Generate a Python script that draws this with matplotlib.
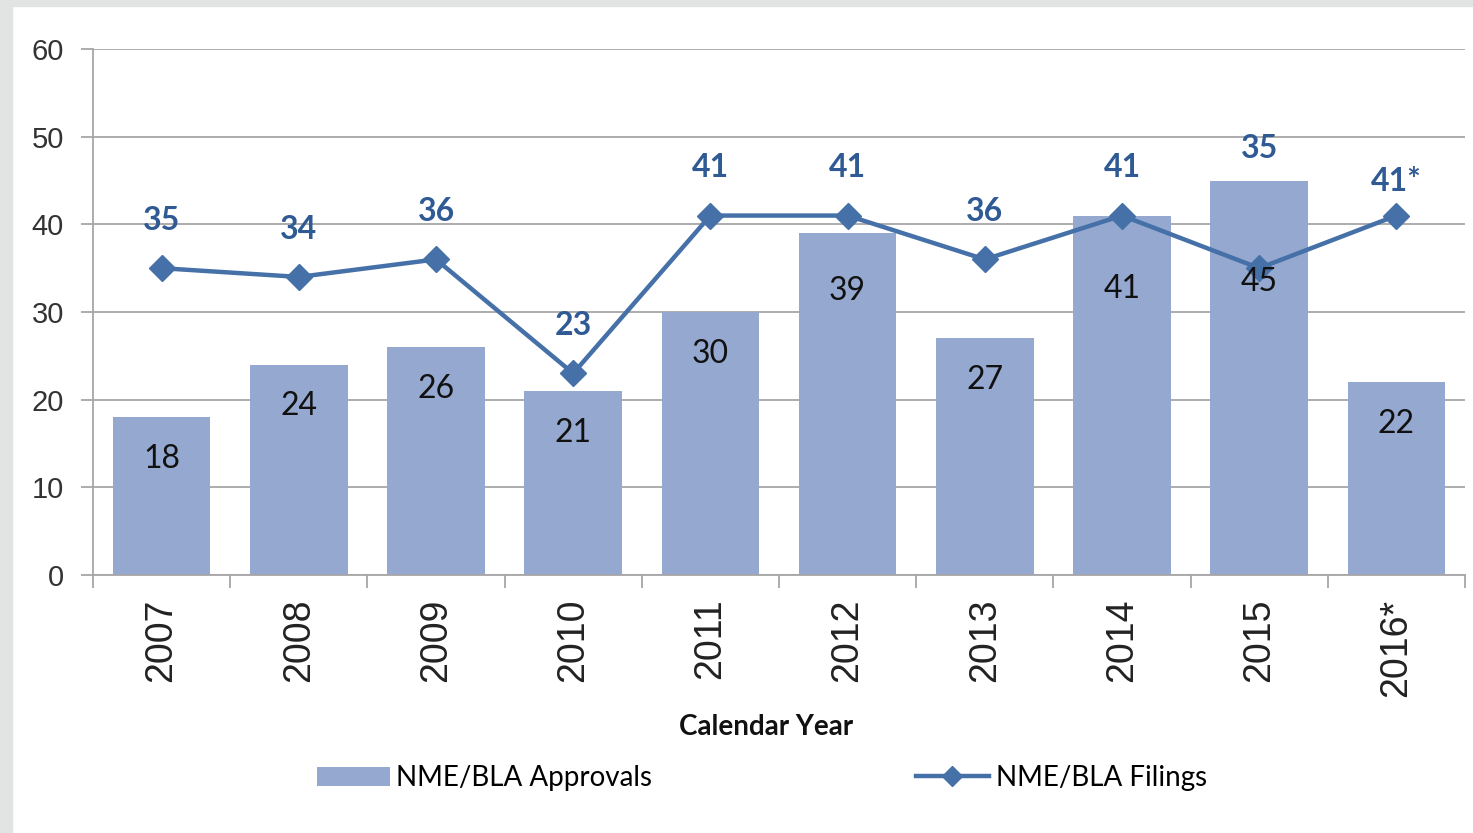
import numpy as np
import matplotlib
matplotlib.use("Agg")
from matplotlib import pyplot as plt
from matplotlib.patches import Rectangle

# 数据
years = ['2007', '2008', '2009', '2010', '2011', '2012', '2013', '2014', '2015', '2016*']
approvals = [18, 24, 26, 21, 30, 39, 27, 41, 45, 22]
filings = [35, 34, 36, 23, 41, 41, 36, 41, 35, 41]
filing_labels = ['35', '34', '36', '23', '41', '41', '36', '41', '35', '41*']

# 标签偏移(单位: 点)
bar_label_drop = [30, 30, 30, 30, 30, 42, 30, 53, 73, 30]
line_label_rise = [24, 24, 24, 24, 24, 24, 24, 24, 76, 14]

bar_color = '#95A9D0'
line_color = '#4570A8'
label_blue = '#2F5A94'
grid_color = '#A6A6A6'

fig = plt.figure(figsize=(14.73, 8.33), dpi=100)
fig.patches.append(Rectangle((0, 0), 12 / 1473, 1, transform=fig.transFigure, color='#E2E4E4', zorder=0))
fig.patches.append(Rectangle((0, 1 - 6 / 833), 1, 6 / 833, transform=fig.transFigure, color='#E2E4E4', zorder=0))

ax = fig.add_axes([93 / 1473, 1 - 575 / 833, (1465 - 93) / 1473, (575 - 49) / 833])
x = np.arange(len(years))

bars = ax.bar(x, approvals, width=0.71, color=bar_color, zorder=2, label='NME/BLA Approvals')
line, = ax.plot(x, filings, color=line_color, lw=3.2, marker='D', ms=13, zorder=3, label='NME/BLA Filings')

for i in range(len(years)):
    ax.annotate(str(approvals[i]), (x[i], approvals[i]), xytext=(0, -bar_label_drop[i]),
                textcoords='offset points', ha='center', va='center', fontsize=23,
                family='Lato', color='#111111', zorder=4)
    ax.annotate(filing_labels[i], (x[i], filings[i]), xytext=(0, line_label_rise[i]),
                textcoords='offset points', ha='center', va='bottom', fontsize=23,
                family='Lato', fontweight='bold', color=label_blue, zorder=4)

ax.set_xlim(-0.5, len(years) - 0.5)
ax.set_ylim(0, 60)
ax.set_yticks(range(0, 61, 10))
ax.yaxis.grid(True, color=grid_color, lw=1.3, zorder=0)
ax.set_axisbelow(True)

ax.set_xticks(x)
ax.set_xticklabels(years, rotation=90, fontsize=27, family='Liberation Sans', color='#222222')
ax.set_xticks(np.arange(-0.5, len(years), 1), minor=True)
ax.tick_params(axis='x', which='major', length=0, pad=17)
ax.tick_params(axis='x', which='minor', length=9, width=1.3, color=grid_color)
ax.tick_params(axis='y', length=9, width=1.3, color=grid_color, pad=12)
for lab in ax.get_yticklabels():
    lab.set_fontsize(21)
    lab.set_family('Liberation Sans')
    lab.set_color('#333333')

for s in ['top', 'right']:
    ax.spines[s].set_visible(False)
for s in ['left', 'bottom']:
    ax.spines[s].set_color(grid_color)
    ax.spines[s].set_linewidth(1.3)

fig.text(766 / 1473, 1 - 727 / 833, 'Calendar Year', ha='center', va='center',
         fontsize=20, family='Lato', fontweight='bold', color='#111111')

fig.legend([bars, line], ['NME/BLA Approvals', 'NME/BLA Filings'],
           loc='center', bbox_to_anchor=(762 / 1473, 1 - 778 / 833), ncol=2, frameon=False,
           prop={'family': 'Lato', 'size': 20}, handlelength=2.6, handletextpad=0.25,
           columnspacing=9.5, markerscale=0.8)

plt.savefig('out.png', dpi=100)
